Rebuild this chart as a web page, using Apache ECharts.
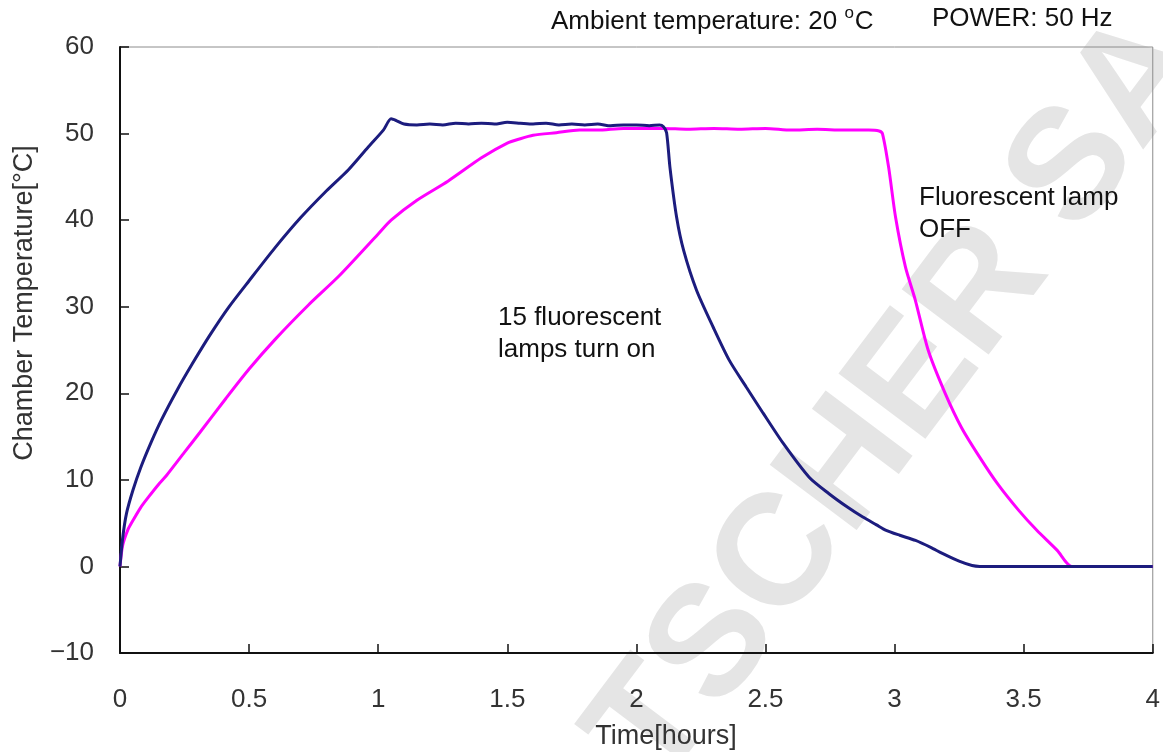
<!DOCTYPE html>
<html>
<head>
<meta charset="utf-8">
<title>Chamber Temperature</title>
<script src="https://cdn.jsdelivr.net/npm/echarts@6/dist/echarts.min.js"></script>
<style>
  html, body { margin: 0; padding: 0; background: #ffffff; }
  #chart { width: 1163px; height: 752px; }
</style>
</head>
<body>
<div id="chart"></div>
<script>
// Axis ticks
const timeTicks = [0, 0.5, 1, 1.5, 2, 2.5, 3, 3.5, 4];
const tempTicks = [-10, 0, 10, 20, 30, 40, 50, 60];

// Run with 15 lamps (navy): time [h] and chamber temperature [°C]
const navyTime = [0, 0.01, 0.025, 0.05, 0.08, 0.12, 0.16, 0.22, 0.28, 0.35, 0.42, 0.5, 0.6, 0.7, 0.8, 0.884, 0.96, 1.02, 1.05, 1.07, 1.1, 1.15, 1.2, 1.25, 1.3, 1.35, 1.4, 1.45, 1.5, 1.55, 1.6, 1.65, 1.7, 1.75, 1.8, 1.85, 1.9, 1.95, 2.0, 2.05, 2.09, 2.105, 2.117, 2.13, 2.156, 2.183, 2.233, 2.298, 2.36, 2.426, 2.491, 2.569, 2.669, 2.746, 2.82, 2.877, 2.93, 2.965, 3.02, 3.081, 3.14, 3.185, 3.25, 3.3, 3.33, 3.5, 3.7, 4.0];
const navyTemp = [0, 3.2, 6.1, 8.8, 11.4, 14.3, 16.9, 20.3, 23.4, 26.8, 29.9, 33.0, 36.8, 40.3, 43.4, 45.8, 48.4, 50.4, 51.7, 51.5, 51.1, 51.0, 51.1, 51.0, 51.2, 51.1, 51.2, 51.1, 51.3, 51.2, 51.1, 51.2, 51.0, 51.1, 51.0, 51.1, 50.9, 51.0, 51.0, 50.9, 51.0, 50.8, 50.1, 46.1, 40.3, 36.5, 31.9, 27.6, 23.8, 20.7, 17.7, 14.2, 10.3, 8.4, 6.8, 5.7, 4.8, 4.2, 3.6, 3.0, 2.2, 1.5, 0.6, 0.1, 0, 0, 0, 0];

// Second run (magenta): time [h] and chamber temperature [°C]
const magentaTime = [0, 0.01, 0.03, 0.05, 0.08, 0.11, 0.15, 0.18, 0.25, 0.31, 0.41, 0.5, 0.6, 0.73, 0.85, 1.0, 1.05, 1.15, 1.27, 1.4, 1.5, 1.55, 1.6, 1.69, 1.78, 1.85, 1.95, 2.0, 2.1, 2.2, 2.3, 2.4, 2.5, 2.6, 2.7, 2.8, 2.9, 2.94, 2.953, 2.977, 3.004, 3.042, 3.08, 3.13, 3.196, 3.26, 3.33, 3.4, 3.48, 3.55, 3.63, 3.686, 3.8, 4.0];
const magentaTemp = [0, 2.4, 4.2, 5.3, 6.8, 8.0, 9.5, 10.5, 13.2, 15.5, 19.4, 22.8, 26.2, 30.2, 33.6, 38.4, 40.0, 42.3, 44.5, 47.2, 48.9, 49.4, 49.8, 50.1, 50.4, 50.4, 50.6, 50.6, 50.6, 50.5, 50.6, 50.5, 50.6, 50.4, 50.5, 50.4, 50.4, 50.3, 50.0, 46.1, 40.3, 34.6, 30.8, 25.0, 20.0, 16.0, 12.6, 9.5, 6.5, 4.2, 1.85, 0, 0, 0];

// Text
const headerLeft = 'Ambient temperature: 20 ';
const headerRight = 'POWER: 50 Hz';
const noteOn = ['15 fluorescent', 'lamps turn on'];
const noteOff = ['Fluorescent lamp', 'OFF'];
const xTitle = 'Time[hours]';
const yTitle = 'Chamber Temperature[\u00b0C]';
const stamp = 'TSCHER SA';

const zip = (xs, ys) => xs.map((x, i) => [x, ys[i]]);

const chart = echarts.init(document.getElementById('chart'), null, { renderer: 'canvas' });

const tickFont = { fontFamily: 'Liberation Sans, Arial, sans-serif', fontSize: 26, color: '#333333' };
const textFont = 'Liberation Sans, Arial, sans-serif';

chart.setOption({
  animation: false,
  backgroundColor: '#ffffff',
  grid: {
    left: 120, right: 6, top: 47, bottom: 99,
    show: true, borderColor: '#8c8c8c', borderWidth: 1, backgroundColor: 'transparent'
  },
  xAxis: {
    type: 'value',
    min: timeTicks[0], max: timeTicks[timeTicks.length - 1], interval: 0.5,
    axisLine: { show: true, onZero: false, lineStyle: { color: '#111111', width: 2 } },
    axisTick: { show: true, inside: true, length: 9, lineStyle: { color: '#111111', width: 1.5 } },
    splitLine: { show: false },
    axisLabel: Object.assign({ margin: 34, formatter: v => String(v) }, tickFont)
  },
  yAxis: {
    type: 'value',
    min: tempTicks[0], max: tempTicks[tempTicks.length - 1], interval: 10,
    axisLine: { show: true, onZero: false, lineStyle: { color: '#111111', width: 2 } },
    axisTick: { show: true, inside: true, length: 9, lineStyle: { color: '#111111', width: 1.5 } },
    splitLine: { show: false },
    axisLabel: Object.assign({ margin: 26, formatter: v => (v < 0 ? '\u2212' + Math.abs(v) : String(v)) }, tickFont)
  },
  series: [
    {
      type: 'line', name: 'magenta', data: zip(magentaTime, magentaTemp),
      showSymbol: false, smooth: 0.25, z: 3,
      lineStyle: { color: '#ff00ff', width: 3 }
    },
    {
      type: 'line', name: 'navy', data: zip(navyTime, navyTemp),
      showSymbol: false, smooth: 0.25, z: 4,
      lineStyle: { color: '#1c1c7e', width: 3 }
    }
  ],
  graphic: [
    {
      type: 'text', silent: true, z: -10, zlevel: 0,
      x: 900, y: 400, rotation: 53 * Math.PI / 180,
      style: {
        text: stamp, fill: '#e5e5e5',
        font: 'bold 158px Liberation Sans, Arial, sans-serif',
        textAlign: 'center', textVerticalAlign: 'middle'
      }
    },
    {
      type: 'text', silent: true, x: 551, y: 5,
      style: {
        text: '{n|' + headerLeft + '}{s|o}{n|C}',
        rich: {
          n: { fontFamily: textFont, fontSize: 26, fill: '#111111', lineHeight: 30, verticalAlign: 'bottom' },
          s: { fontFamily: textFont, fontSize: 17, fill: '#111111', lineHeight: 30, verticalAlign: 'top', padding: [0, 1, 0, 0] }
        }
      }
    },
    {
      type: 'text', silent: true, x: 932, y: 6,
      style: { text: headerRight, font: '26px ' + textFont, fill: '#111111', textVerticalAlign: 'top' }
    },
    {
      type: 'text', silent: true, x: 498, y: 302,
      style: { text: noteOn.join('\n'), font: '26px ' + textFont, fill: '#111111', lineHeight: 32, textVerticalAlign: 'top' }
    },
    {
      type: 'text', silent: true, x: 919, y: 182,
      style: { text: noteOff.join('\n'), font: '26px ' + textFont, fill: '#111111', lineHeight: 32, textVerticalAlign: 'top' }
    },
    {
      type: 'text', silent: true, x: 666, y: 737,
      style: { text: xTitle, font: '27px ' + textFont, fill: '#333333', textAlign: 'center', textVerticalAlign: 'middle' }
    },
    {
      type: 'text', silent: true, x: 25, y: 303, rotation: Math.PI / 2,
      style: { text: yTitle, font: '27px ' + textFont, fill: '#333333', textAlign: 'center', textVerticalAlign: 'middle' }
    }
  ]
});
</script>
</body>
</html>
